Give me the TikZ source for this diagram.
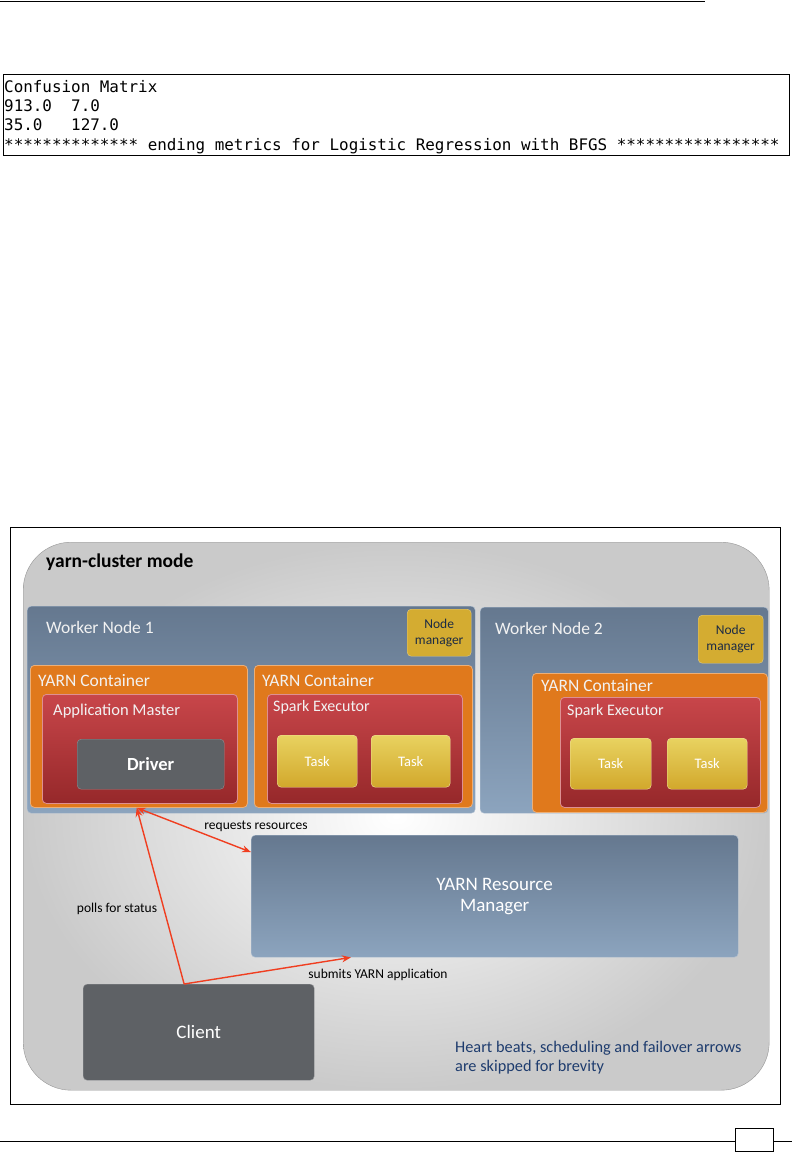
\documentclass[tikz,border=0pt]{standalone}
\usepackage{fontspec}
\setmainfont{Carlito}
\newfontfamily\codefont{DejaVu Sans Mono}
\usepackage{xcolor}
\definecolor{paneledge}{RGB}{150, 150, 150}
\definecolor{panelgray}{RGB}{202, 202, 202}
\definecolor{workertop}{RGB}{101, 120, 143}
\definecolor{workerbot}{RGB}{140, 164, 190}
\definecolor{yarnorange}{RGB}{224, 121, 28}
\definecolor{exectop}{RGB}{200, 70, 74}
\definecolor{execbot}{RGB}{150, 40, 42}
\definecolor{tasktop}{RGB}{232, 210, 96}
\definecolor{taskbot}{RGB}{210, 168, 44}
\definecolor{drivergray}{RGB}{94, 97, 101}
\definecolor{mgrnavy}{RGB}{28, 43, 68}
\definecolor{notenavy}{RGB}{30, 60, 110}
\definecolor{flowred}{RGB}{240, 62, 32}
\usepackage{tikz}
\usetikzlibrary{arrows.meta, positioning, calc}

\begin{document}
\begin{tikzpicture}[x=1pt, y=-1pt, >={Stealth[length=9pt, width=7pt]},
    box/.style={anchor=north west, inner sep=0pt, rounded corners=4pt, align=center},
    worker/.style={box, top color=workertop, bottom color=workerbot, draw=workerbot!70!white},
    container/.style={box, fill=yarnorange, draw=yarnorange!60!white, line width=0.8pt},
    executor/.style={box, top color=exectop, bottom color=execbot, draw=exectop!60!white, line width=0.8pt},
    taskbox/.style={box, top color=tasktop, bottom color=taskbot, draw=tasktop!60!white, text=white, font=\fontsize{14.5}{17}\selectfont},
    mgrbox/.style={box, fill=taskbot!90!tasktop, draw=taskbot!60!white, text=mgrnavy, font=\fontsize{13.5}{16}\selectfont},
    graybox/.style={box, fill=drivergray, draw=drivergray!70!white, text=white},
    boxtitle/.style={anchor=west, inner sep=0pt, text=white!95!black},
    flowlabel/.style={inner sep=0pt, font=\fontsize{13.5}{16}\selectfont},
    flow/.style={color=flowred, line width=1.4pt}]

    \useasboundingbox (0,0) rectangle (792,1152);

    % page head and console output
    \draw[line width=0.8pt] (0,1) -- (705,1);
    \node[draw, line width=0.9pt, anchor=north west, inner sep=0pt, minimum width=786pt, minimum height=81pt] (codebox) at (3,74) {};
    \node[anchor=north west, inner sep=0pt, align=left, font=\codefont\fontsize{15.9}{19.3}\selectfont] (codetext) at (4,80)
        {Confusion Matrix\\913.0\ \ 7.0\\35.0\ \ \ 127.0\\************** ending metrics for Logistic Regression with BFGS *****************};

    % diagram frame
    \node[draw, line width=0.8pt, anchor=north west, inner sep=0pt, minimum width=770pt, minimum height=577pt] (frame) at (10,527) {};
    \node[anchor=north west, inner sep=0pt, rounded corners=48pt, draw=paneledge, shading=radial, inner color=white, outer color=panelgray,
        minimum width=746pt, minimum height=548pt] (cluster) at (23,542) {};
    \node[anchor=west, inner sep=0pt, font=\bfseries\fontsize{19.5}{23}\selectfont] (modetitle) at (46,562) {yarn-cluster mode};

    % worker node 1
    \node[worker, minimum width=448pt, minimum height=207pt] (wn1) at (27,606) {};
    \node[boxtitle, font=\fontsize{17.5}{21}\selectfont] (wn1title) at (46,627) {Worker Node 1};
    \node[mgrbox, minimum width=64pt, minimum height=47pt] (nm1) at (407,609) {Node\\manager};

    \node[container, minimum width=217pt, minimum height=142pt] (ct1) at (30,665) {};
    \node[boxtitle, font=\fontsize{17.5}{21}\selectfont] (ct1title) at (38,681) {YARN Container};
    \node[executor, minimum width=195pt, minimum height=109pt] (am) at (42,694) {};
    \node[boxtitle, font=\fontsize{16.5}{20}\selectfont] (amtitle) at (53,711) {Application Master};
    \node[graybox, minimum width=147pt, minimum height=50pt, font=\bfseries\fontsize{18.5}{22}\selectfont] (driver) at (77,739) {Driver};

    \node[container, minimum width=218pt, minimum height=142pt] (ct2) at (254,665) {};
    \node[boxtitle, font=\fontsize{17.5}{21}\selectfont] (ct2title) at (262,681) {YARN Container};
    \node[executor, minimum width=195pt, minimum height=109pt] (ex1) at (267,694) {};
    \node[boxtitle, font=\fontsize{16}{19}\selectfont] (ex1title) at (273,707) {Spark Executor};
    \node[taskbox, minimum width=80pt, minimum height=52pt] (task11) at (277,735) {Task};
    \node[taskbox, minimum width=79pt, minimum height=52pt] (task12) at (371,735) {Task};

    % worker node 2
    \node[worker, minimum width=288pt, minimum height=206pt] (wn2) at (480,607) {};
    \node[boxtitle, font=\fontsize{17.5}{21}\selectfont] (wn2title) at (495,628) {Worker Node 2};
    \node[mgrbox, minimum width=65pt, minimum height=48pt] (nm2) at (698,615) {Node\\manager};

    \node[container, minimum width=235pt, minimum height=139pt] (ct3) at (532,673) {};
    \node[boxtitle, font=\fontsize{17.5}{21}\selectfont] (ct3title) at (541,686) {YARN Container};
    \node[executor, minimum width=200pt, minimum height=110pt] (ex2) at (560,697) {};
    \node[boxtitle, font=\fontsize{16}{19}\selectfont] (ex2title) at (567,711) {Spark Executor};
    \node[taskbox, minimum width=81pt, minimum height=51pt] (task21) at (570,738) {Task};
    \node[taskbox, minimum width=80pt, minimum height=51pt] (task22) at (667,738) {Task};

    % resource manager and client
    \node[worker, minimum width=487pt, minimum height=122pt, text=white, font=\fontsize{19}{21}\selectfont] (rm) at (251,835) {YARN Resource\\Manager};
    \node[graybox, minimum width=231pt, minimum height=96pt, font=\fontsize{19}{22}\selectfont] (client) at (83,984) {Client};

    % request flows
    \coordinate (fork) at ($(client.north west)!0.437!(client.north east)$);
    \coordinate (amfoot) at ($(ct1.south west)!0.49!(ct1.south east)$);
    \coordinate (rmin) at ($(rm.north west)!0.14!(rm.south west)$);
    \coordinate (rmfoot) at ($(rm.south west)!0.205!(rm.south east)$);
    \draw[flow, ->] (fork) -- (amfoot);
    \draw[flow, <->] (amfoot) -- (rmin);
    \draw[flow, ->] (fork) -- (rmfoot);
    \node[flowlabel] (reqlabel) at (256,826) {requests resources};
    \node[flowlabel] (polllabel) at (117,909) {polls for status};
    \node[flowlabel] (sublabel) at (378,975) {submits YARN application};

    \node[anchor=north west, inner sep=0pt, align=left, text=notenavy, font=\fontsize{16.3}{19}\selectfont] (note) at (455,1041)
        {Heart beats, scheduling and failover arrows\\are skipped for brevity};

    % page foot
    \node[draw, line width=0.8pt, anchor=north west, inner sep=0pt, minimum width=38pt, minimum height=23pt] (pagebox) at (735,1128) {};
    \coordinate (footleft) at (0,1141);
    \coordinate (footright) at (792,1141);
    \draw[line width=0.8pt] (footleft) -- (footleft -| pagebox.west);
    \draw[line width=0.8pt] (footright -| pagebox.east) -- (footright);
\end{tikzpicture}
\end{document}
